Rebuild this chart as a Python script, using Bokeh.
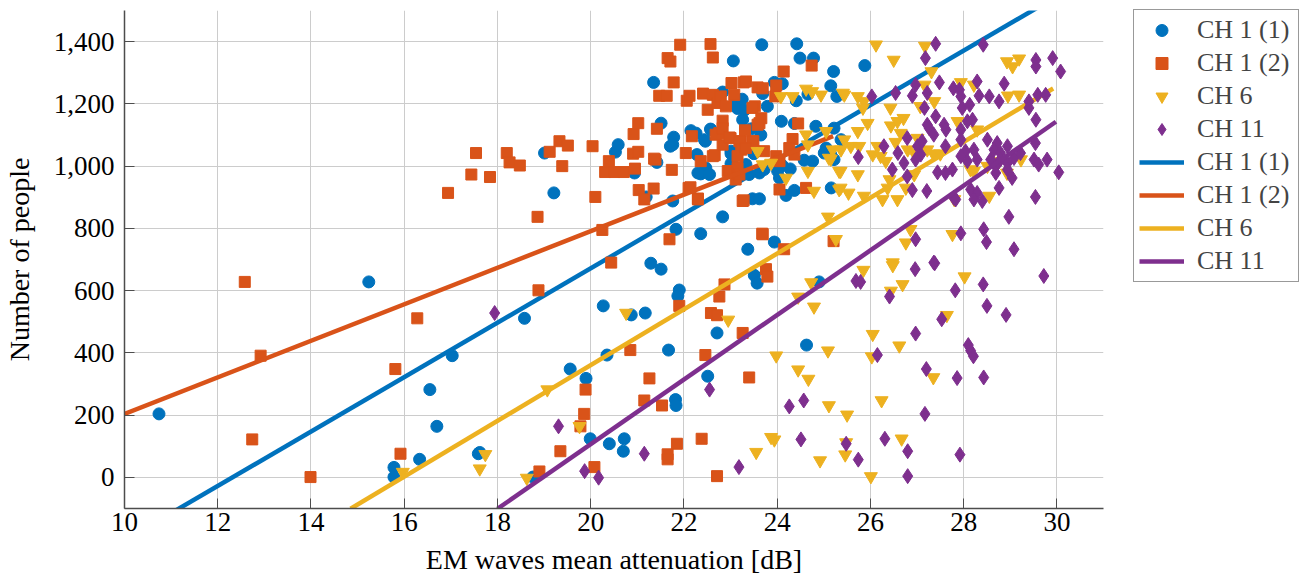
import numpy as np
from bokeh.plotting import figure
from bokeh.models import Range1d, FixedTicker, NumeralTickFormatter, Legend, LegendItem
from bokeh.embed import file_html
from bokeh.resources import INLINE

# ---------------- data ----------------
series_names = ["CH 1 (1)", "CH 1 (2)", "CH 6", "CH 11"]
series_colors = ["#0072BD", "#D95319", "#EDB120", "#7E2F8E"]

ch1a = [(10.74,204),(15.24,628),(15.78,32),(15.78,1),(16.33,58),(16.55,282),(16.70,164),(17.03,391),
        (17.59,76),(17.62,80),(18.58,511),(18.76,1),(19.01,1042),(19.21,914),(19.56,348),(19.90,318),
        (19.99,124),(20.27,551),(20.35,393),(20.40,108),(20.72,124),(20.70,84),(20.53,1045),(20.59,1069),
        (20.87,522),(20.94,978),(21.17,528),(21.19,901),(21.29,688),(21.51,669),(21.35,1269),(21.51,1138),
        (21.42,1012),(21.76,888),(21.78,1093),(21.71,1064),(21.83,797),(21.82,250),(21.83,231),(21.67,409),
        (21.90,602),(21.87,583),(22.36,783),(22.26,1106),(22.46,1080),(22.57,1119),(22.28,1037),(22.36,975),
        (22.47,994),(22.55,973),(22.30,978),(22.15,1114),(22.44,1085),(22.58,1117),(21.76,1069),(22.51,325),
        (22.71,464),(22.83,837),(23.06,1338),(23.67,1390),(23.37,733),(23.51,649),(23.57,624),(22.83,1238),
        (23.10,1200),(23.15,1185),(23.25,1215),(23.30,1180),(23.26,1149),(23.01,1040),(23.01,1008),(23.04,1005),
        (23.01,1048),(23.47,895),(23.62,895),(23.33,1005),(23.40,973),(23.62,978),(23.69,1233),(23.79,1192),
        (23.94,1269),(24.11,1265),(24.09,1144),(24.37,1137),(24.83,1128),(23.65,1100),(25.37,1085),(25.05,1058),
        (25.01,1042),(25.22,1021),(24.58,1019),(24.76,1016),(23.72,989),(24.11,1002),(24.28,991),(24.05,962),
        (24.19,906),(24.37,922),(25.16,930),(23.94,756),(24.42,1393),(24.49,1347),(24.78,1347),(25.21,1304),
        (25.88,1323),(25.15,1258),(25.28,1224),(24.41,1210),(24.66,1231),(24.01,984),(25.22,1122),(25.15,1037),
        (24.63,425),(24.90,628),(23.45,1120),(23.20,1060),(23.50,1040)]

ch1b = [(12.58,628),(12.74,122),(12.92,391),(13.99,1),(15.81,348),(15.92,76),(16.28,511),(16.94,914),
        (17.44,973),(17.84,965),(17.54,1042),(18.20,1042),(18.26,1012),(18.48,1002),(18.86,837),(18.88,601),
        (18.90,19),(19.12,1046),(19.33,1080),(19.51,1066),(19.39,1000),(19.35,84),(19.78,164),(19.86,204),
        (19.89,282),(20.04,1064),(20.10,901),(20.08,33),(20.25,795),(20.44,690),(20.39,1016),(20.31,981),
        (20.51,981),(20.71,981),(20.95,992),(20.91,1040),(21.02,1046),(20.92,1103),(21.02,1138),(21.03,923),
        (21.15,893),(21.35,928),(21.39,1021),(21.42,1120),(21.47,1226),(21.63,1226),(21.65,1347),(21.71,1336),
        (21.78,1269),(21.92,1390),(21.74,988),(22.04,1042),(22.06,1210),(22.12,1226),(22.10,930),(22.30,896),
        (22.17,1096),(22.36,1016),(22.41,1233),(22.57,1392),(22.62,1349),(22.51,1181),(22.62,1229),(22.66,1035),
        (22.72,1203),(22.83,1146),(22.76,1106),(22.79,1224),(22.90,1192),(23.02,1267),(23.08,1229),(23.28,1269),
        (23.00,1090),(22.83,1069),(23.22,1080),(23.31,1115),(22.94,984),(23.11,957),(23.26,888),(23.49,1080),
        (23.52,1192),(23.58,1253),(23.62,1138),(23.68,783),(21.69,765),(20.85,409),(21.26,318),(21.15,247),
        (21.53,231),(21.85,108),(21.65,74),(21.65,58),(22.38,124),(22.71,4),(21.90,551),(22.87,620),
        (22.76,581),(22.58,528),(22.71,521),(23.26,464),(22.46,393),(23.40,321),(23.76,669),(23.79,645),
        (24.14,1304),(24.74,1323),(23.98,1259),(23.96,1224),(23.69,1250),(23.33,1272),(23.47,1187),(23.66,1154),
        (24.45,1137),(24.33,1087),(23.72,1048),(23.98,1032),(24.05,1016),(24.26,1058),(24.37,1037),(24.05,925),
        (24.62,930),(23.69,781),(25.21,759),(24.15,733),(22.68,1101),(22.83,1122),(22.98,1092),(23.19,1080),
        (23.23,1053),(22.62,1032),(21.36,1024),(22.98,984),(23.15,1032),(23.15,994),(23.19,973),(22.14,932),
        (22.30,893),(23.28,890),(23.58,1133),(23.47,1080),(23.33,1058)]

ch6 = [(15.97,17),(17.74,74),(17.62,28),(18.63,-2),(19.07,282),(19.76,164),(20.76,528),(22.95,506),
       (23.55,81),(23.87,129),(24.08,1224),(24.33,1224),(24.62,1248),(24.75,1240),(24.94,1229),(25.41,1235),
       (23.58,1048),(23.69,1005),(23.87,1010),(24.62,1101),(25.05,1112),(24.66,984),(24.19,962),(24.79,920),
       (25.11,1026),(25.33,984),(25.33,925),(26.12,1390),(27.17,1386),(26.50,1341),(28.93,1336),(29.19,1345),
       (29.05,1320),(27.31,1304),(25.44,1229),(25.73,1224),(25.86,1208),(25.84,1187),(27.16,1261),(27.37,1208),
       (27.94,1269),(28.22,1261),(28.95,1226),(29.19,1229),(26.43,1187),(27.07,1192),(25.94,1138),(26.44,1130),
       (26.58,1144),(26.71,1154),(25.73,1112),(24.66,1069),(25.44,1085),(26.65,1106),(27.87,1144),(28.29,1117),
       (27.01,1090),(26.54,1077),(26.15,1064),(25.58,1064),(25.76,1064),(25.19,1053),(25.37,1053),(26.05,1037),
       (26.22,1032),(26.33,1016),(26.80,1053),(26.94,1042),(27.22,1053),(27.35,1040),(27.50,1040),(25.15,1023),
       (25.36,984),(25.73,973),(26.41,957),(26.94,973),(28.15,989),(28.22,984),(28.51,1000),(28.76,1016),
       (28.93,978),(29.23,1021),(25.36,930),(25.53,914),(25.86,904),(26.26,893),(26.58,893),(26.37,930),
       (26.76,930),(27.80,893),(28.55,904),(25.09,837),(26.86,797),(25.26,765),(26.76,754),(27.76,781),
       (26.48,690),(26.48,681),(25.85,666),(28.02,645),(26.69,620),(26.44,599),(24.73,626),(24.45,580),
       (24.79,548),(27.64,521),(26.05,460),(26.62,423),(23.98,391),(25.09,407),(26.03,388),(24.45,346),
       (24.67,316),(27.35,321),(25.11,231),(25.50,201),(26.24,247),(23.94,121),(25.48,112),(26.67,124),
       (24.92,54),(25.46,73),(26.01,3)]

ch11 = [(17.94,528),(19.31,164),(19.87,20),(20.17,-1),(21.15,76),(22.55,282),(23.18,33),(24.26,228),
        (24.57,247),(24.51,122),(25.48,108),(26.31,124),(26.80,84),(27.92,73),(25.74,57),(26.80,4),
        (26.96,669),(27.38,688),(29.72,647),(25.69,631),(25.79,628),(28.42,620),(27.82,601),(26.41,581),
        (28.50,551),(28.91,522),(27.53,508),(26.97,462),(28.10,425),(28.15,407),(28.21,389),(26.15,393),
        (27.20,348),(27.86,319),(28.43,321),(27.17,204),
        (27.40,1393),(28.42,1390),(27.18,1347),(29.55,1341),(29.55,1320),(29.91,1347),(30.08,1304),(27.48,1269),
        (26.97,1261),(26.54,1235),(26.90,1226),(27.22,1235),(27.78,1250),(27.91,1245),(27.94,1224),(28.29,1272),
        (28.87,1265),(28.33,1226),(28.55,1224),(28.76,1208),(29.59,1229),(29.76,1229),(29.40,1208),(29.40,1187),
        (26.03,1224),(27.16,1187),(27.97,1187),(28.13,1197),(29.55,1149),(27.40,1160),
        (27.22,1133),(27.26,1122),(27.36,1101),(27.58,1133),(27.62,1117),(27.94,1117),(28.08,1144),(28.19,1149),
        (27.94,1085),(26.79,1090),(26.29,1064),(25.74,1029),(26.59,1042),(27.01,1064),(27.11,1080),(27.08,1037),
        (26.97,1021),(27.61,1064),(28.04,1048),(28.22,1053),(27.94,1032),(28.08,1016),(28.29,1021),(28.51,1085),
        (28.72,1074),(28.65,1053),(28.79,1042),(28.94,1064),(28.58,1021),(28.69,1000),(28.79,1021),(28.94,1010),
        (29.08,1026),(29.22,1042),(29.54,1074),(29.51,1021),(29.61,1005),(29.79,1021),(26.72,1010),(26.47,989),
        (26.79,967),(27.44,980),(27.61,978),(27.76,989),(28.69,978),(28.94,989),(29.04,962),(30.04,980),
        (26.90,923),(27.21,920),(27.79,898),(27.83,893),(28.15,925),(28.29,914),(28.22,893),(28.40,888),
        (28.76,930),(29.54,901),(28.97,837),(28.43,797),(28.49,756),(27.94,784),(26.97,765),(29.08,733),
        (27.36,690)]

# linear fits shown in the chart: y = slope * x + intercept over [x_start, x_end]
fit_slope = [87.4, 58.7, 89.6, 103.8]
fit_intercept = [-1076.3, -383.0, -1431.3, -1969.4]
fit_x_start = [10.0, 10.0, 14.85, 18.0]
fit_x_end = [30.5, 25.2, 29.92, 29.98]

# ---------------- figure ----------------
FONT = "Liberation Serif"
p = figure(frame_width=979, frame_height=498,
           x_range=Range1d(10, 31), y_range=Range1d(-100, 1500),
           output_backend="svg", toolbar_location=None,
           min_border_left=123, min_border_top=10, min_border_right=205, min_border_bottom=5)
p.outline_line_color = None
p.background_fill_color = "white"

p.xaxis.ticker = FixedTicker(ticks=list(range(10, 31, 2)))
p.yaxis.ticker = FixedTicker(ticks=list(range(0, 1401, 200)))
p.yaxis.formatter = NumeralTickFormatter(format="0,0")
for ax in (p.xaxis[0], p.yaxis[0]):
    ax.major_tick_in = 10
    ax.major_tick_out = 0
    ax.minor_tick_line_color = None
    ax.axis_line_color = "#4d4d4d"
    ax.axis_line_width = 1.5
    ax.major_tick_line_color = "#4d4d4d"
    ax.major_tick_line_width = 1
    ax.major_label_text_font = FONT
    ax.major_label_text_font_size = "27px"
    ax.major_label_text_color = "black"
    ax.axis_label_text_font = FONT
    ax.axis_label_text_font_size = "28px"
    ax.axis_label_text_font_style = "normal"
    ax.axis_label_text_color = "black"
p.xaxis.axis_label = "EM waves mean attenuation [dB]"
p.yaxis.axis_label = "Number of people"
p.xaxis.major_label_standoff = 4
p.xaxis.axis_label_standoff = 10
p.yaxis.major_label_standoff = 10
p.yaxis.axis_label_standoff = 16
p.grid.grid_line_color = "#cccccc"
p.grid.grid_line_width = 1

markers = ["circle", "square", "inverted_triangle", "diamond"]
sizes = [12, 11, 13, 15]
all_pts = [ch1a, ch1b, ch6, ch11]

scatter_r = []
line_r = []
for i in range(4):
    xs = [pt[0] for pt in all_pts[i]]
    ys = [pt[1] for pt in all_pts[i]]
    r = p.scatter(xs, ys, marker=markers[i], size=sizes[i],
                  fill_color=series_colors[i], line_color=series_colors[i], line_width=1)
    scatter_r.append(r)
    lx = np.array([fit_x_start[i], fit_x_end[i]])
    ly = fit_slope[i] * lx + fit_intercept[i]
    lr = p.line(lx, ly, line_color=series_colors[i], line_width=4.5)
    line_r.append(lr)

items = [LegendItem(label=series_names[i], renderers=[scatter_r[i]]) for i in range(4)]
items += [LegendItem(label=series_names[i], renderers=[line_r[i]]) for i in range(4)]
legend = Legend(items=items, location=(30, 226),
                label_text_font=FONT, label_text_font_size="26px",
                glyph_width=45, glyph_height=30, label_height=30, label_width=96, spacing=3,
                label_standoff=13, padding=5, margin=0,
                border_line_color="#333333", border_line_width=1,
                background_fill_color="white", background_fill_alpha=1)
p.add_layout(legend, "right")

open("out.html", "w").write(file_html(p, INLINE))
